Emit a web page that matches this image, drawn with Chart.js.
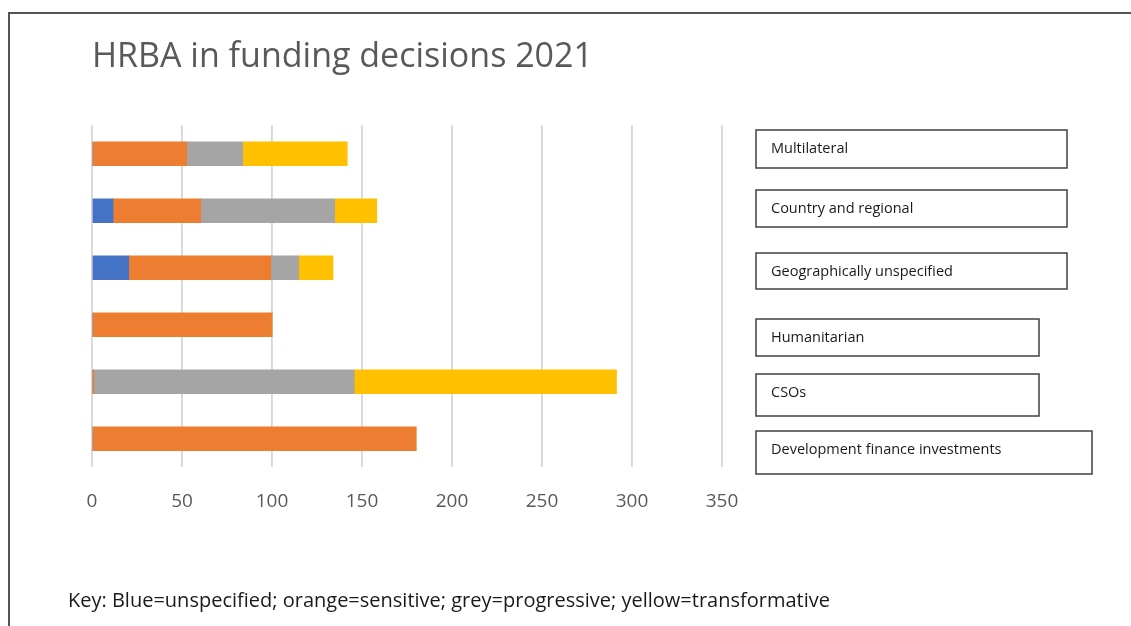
<!DOCTYPE html>
<html>
<head>
<meta charset="utf-8">
<title>HRBA in funding decisions 2021</title>
<script src="https://cdn.jsdelivr.net/npm/chart.js@4/dist/chart.umd.min.js"></script>
<style>
    html, body {
        margin: 0;
        padding: 0;
        background: #ffffff;
        overflow: hidden;
    }
    #wrap {
        position: relative;
        width: 1131px;
        height: 626px;
    }
    #frame {
        position: absolute;
        left: 8px;
        top: 12px;
        right: -10px;
        bottom: -10px;
        border-top: 2px solid #555555;
        border-left: 2px solid #555555;
        pointer-events: none;
    }
    #key {
        position: absolute;
        left: 68px;
        top: 586px;
        font-family: "Open Sans", sans-serif;
        font-size: 20px;
        color: #1a1a1a;
        white-space: nowrap;
    }
</style>
</head>
<body>
<div id="wrap">
    <canvas id="hrbaChart" width="1131" height="626"></canvas>
    <div id="frame"></div>
    <div id="key">Key: Blue=unspecified; orange=sensitive; grey=progressive; yellow=transformative</div>
</div>
<script>
// Funding decisions by channel, split by HRBA level
const categories = [
    'Multilateral',
    'Country and regional',
    'Geographically unspecified',
    'Humanitarian',
    'CSOs',
    'Development finance investments'
];
const unspecified    = [0, 11.7, 20.4, 0, 0, 0];
const sensitive      = [52.6, 48.7, 79, 100, 1.1, 180];
const progressive    = [31.1, 74.4, 15.4, 0, 144.6, 0];
const transformative = [58.1, 23.4, 19.1, 0, 145.7, 0];
const xTicks = [0, 50, 100, 150, 200, 250, 300, 350];

// Label boxes to the right of the plot
const labelBoxes = {
    left: 756,
    tops:    [130, 190, 253, 319, 374, 431],
    heights: [38, 37, 36, 37, 42, 43],
    widths:  [311, 311, 311, 283, 283, 336]
};

const labelBoxPlugin = {
    id: 'labelBoxes',
    afterDraw(chart) {
        const ctx = chart.ctx;
        ctx.save();
        ctx.strokeStyle = '#404040';
        ctx.lineWidth = 1.5;
        ctx.fillStyle = '#1a1a1a';
        ctx.font = '14.5px "Open Sans", sans-serif';
        ctx.textBaseline = 'middle';
        chart.data.labels.forEach((label, i) => {
            const top = labelBoxes.tops[i];
            ctx.strokeRect(labelBoxes.left, top, labelBoxes.widths[i], labelBoxes.heights[i]);
            ctx.fillText(label, labelBoxes.left + 15, top + 19);
        });
        ctx.restore();
    }
};

function makeSet(label, data, color) {
    return {
        label: label,
        data: data,
        backgroundColor: color,
        borderWidth: 0,
        barThickness: 24
    };
}

new Chart(document.getElementById('hrbaChart').getContext('2d'), {
    type: 'bar',
    data: {
        labels: categories,
        datasets: [
            makeSet('Unspecified', unspecified, '#4472C4'),
            makeSet('Sensitive', sensitive, '#ED7D31'),
            makeSet('Progressive', progressive, '#A5A5A5'),
            makeSet('Transformative', transformative, '#FFC000')
        ]
    },
    options: {
        indexAxis: 'y',
        responsive: false,
        animation: false,
        layout: {
            padding: { left: 92, right: 409, top: 37, bottom: 15 }
        },
        scales: {
            x: {
                stacked: true,
                min: 0,
                max: 350,
                afterBuildTicks: (scale) => {
                    scale.ticks = xTicks.map(v => ({ value: v }));
                },
                afterFit: (scale) => {
                    scale.height = 40;
                },
                border: { display: false },
                grid: {
                    color: '#d6d6d6',
                    lineWidth: 1.8,
                    drawTicks: false
                },
                ticks: {
                    padding: 23,
                    color: '#595959',
                    font: { family: '"Open Sans", sans-serif', size: 19 }
                }
            },
            y: {
                stacked: true,
                display: false
            }
        },
        plugins: {
            legend: { display: false },
            tooltip: { enabled: false },
            title: {
                display: true,
                text: 'HRBA in funding decisions 2021',
                align: 'start',
                color: '#595959',
                font: { family: '"Open Sans", sans-serif', size: 34, weight: 'normal' },
                padding: { top: 0, bottom: 47.5 }
            },
            subtitle: {
                display: true,
                position: 'bottom',
                text: ' ',
                font: { size: 19 },
                padding: { top: 81, bottom: 0 }
            }
        }
    },
    plugins: [labelBoxPlugin]
});
</script>
</body>
</html>
